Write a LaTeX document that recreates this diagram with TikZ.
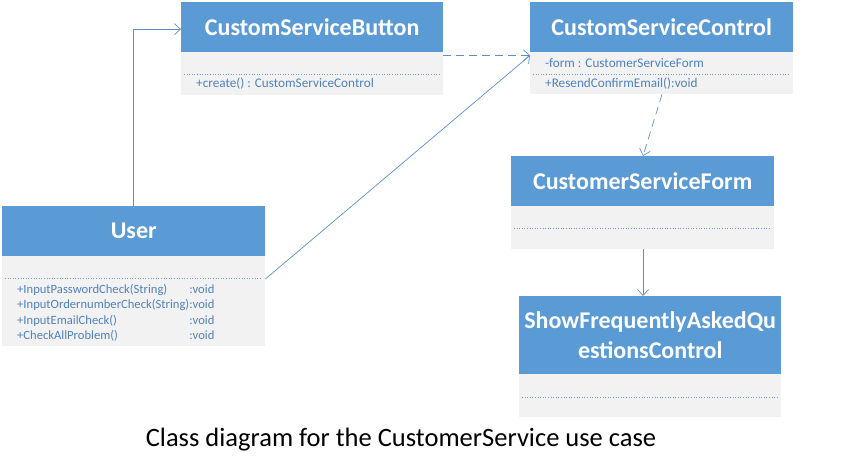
\documentclass[tikz,border=0pt]{standalone}
\usepackage{fontspec}
\setmainfont{Carlito}
\usetikzlibrary{arrows.meta}
\definecolor{hdr}{HTML}{5B9BD5}
\definecolor{bdy}{HTML}{F2F2F2}
\definecolor{txt}{HTML}{4F81BD}
\definecolor{ln}{HTML}{5B8FCB}
\tikzset{
  hdrbox/.style={fill=hdr, draw=none, minimum width=262pt, anchor=north west, inner sep=0pt,
    text=white, font=\fontsize{24}{30}\selectfont\bfseries, align=center},
  bodybox/.style={fill=bdy, draw=none, minimum width=262pt, anchor=north west, inner sep=0pt},
  member/.style={anchor=west, text=txt, font=\fontsize{13.2}{15.6}\selectfont, inner sep=0pt},
  sepline/.style={draw=txt!80, dotted, line width=0.6pt},
  conn/.style={draw=ln, line width=0.7pt, -{Straight Barb[length=6pt,width=11pt]}},
  dconn/.style={conn, dash pattern=on 8pt off 5pt},
}
\begin{document}
\begin{tikzpicture}[x=1pt,y=-1pt]
\useasboundingbox (0,0) rectangle (862,471);
% CustomServiceButton
\node[hdrbox, minimum height=50pt] (btnh) at (181,2) {CustomServiceButton};
\node[bodybox, minimum height=43pt] (btnb) at (181,52) {};
\draw[sepline] (184,74) -- (440,74);
\node[member] (btnm1) at (196,84) {+create() : CustomServiceControl};
% CustomServiceControl
\node[hdrbox, minimum height=50pt, minimum width=263pt] (ctlh) at (530,2) {CustomServiceControl};
\node[bodybox, minimum height=42pt, minimum width=263pt] (ctlb) at (530,52) {};
\node[member] (ctlm1) at (545,63) {-form : CustomerServiceForm};
\draw[sepline] (533,74) -- (790,74);
\node[member] (ctlm2) at (545,84) {+ResendConfirmEmail():void};
% CustomerServiceForm
\node[hdrbox, minimum height=50pt, minimum width=263pt] (frmh) at (511,156) {CustomerServiceForm};
\node[bodybox, minimum height=43pt, minimum width=263pt] (frmb) at (511,206) {};
\draw[sepline] (514,228) -- (771,228);
% ShowFrequentlyAskedQuestionsControl
\node[hdrbox, minimum height=78pt] (faqh) at (519,296) {ShowFrequentlyAskedQu\\estionsControl};
\node[bodybox, minimum height=43pt] (faqb) at (519,374) {};
\draw[sepline] (522,397) -- (778,397);
% User
\node[hdrbox, minimum height=50pt, minimum width=263pt] (usrh) at (2,206) {User};
\node[bodybox, minimum height=90pt, minimum width=263pt] (usrb) at (2,256) {};
\draw[sepline] (5,278) -- (262,278);
\node[member, anchor=north west, font=\fontsize{12.6}{15.6}\selectfont] (usrm) at (17,282) {%
  \begin{tabular}{@{}l@{}l@{}}
  +InputPasswordCheck(String) & :void\\
  +InputOrdernumberCheck(String) & :void\\
  +InputEmailCheck() & :void\\
  +CheckAllProblem() & :void
  \end{tabular}};
% connectors
\coordinate (u1) at (133,206);
\draw[conn] (usrh.north -| u1) |- ([yshift=-2pt]btnh.west);
\draw[conn] ([yshift=-1pt]usrb.east |- 0,278) -- ([yshift=-3pt]ctlh.south west);
\draw[dconn] ([yshift=-3pt]btnh.south east) -- ([yshift=-3pt]ctlh.south west);
\draw[dconn] (ctlb.south -| 662,0) -- (frmh.north -| 643,0);
\draw[conn] (frmb.south -| 643,0) -- (faqh.north -| 643,0);
% caption
\node[font=\fontsize{26.5}{30}\selectfont, text=black, inner sep=0pt] (cap) at (401,440) {Class diagram for the CustomerService use case};
\end{tikzpicture}
\end{document}
